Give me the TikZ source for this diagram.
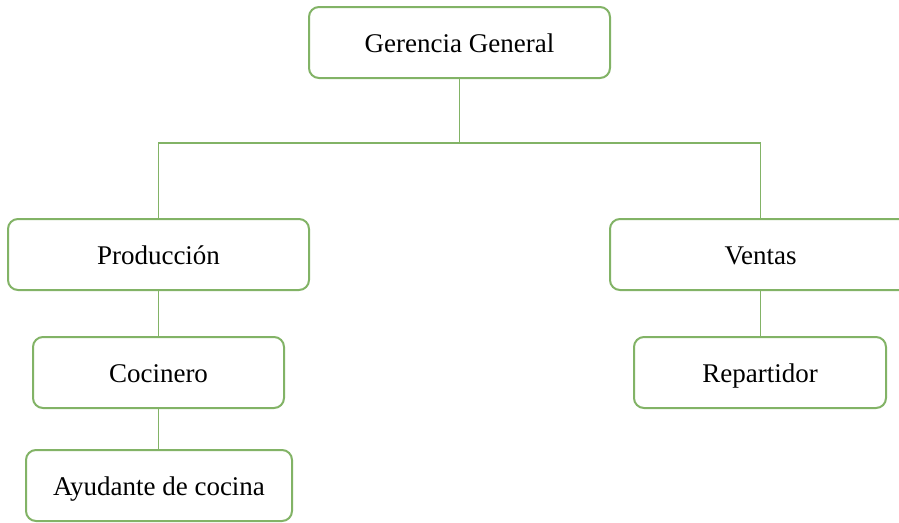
\documentclass[tikz,border=0pt]{standalone}
\usepackage{fontspec}
\setmainfont{Liberation Serif}
\definecolor{boxgreen}{HTML}{82B366}
\begin{document}
\begin{tikzpicture}[x=1pt,y=-1pt,
  unit/.style={draw=boxgreen, line width=2pt, rounded corners=10pt, fill=white,
    minimum height=71pt, inner sep=0pt, text height=22pt, text depth=2pt,
    font=\fontsize{27}{31}\selectfont},
  link/.style={draw=boxgreen, line width=1.8pt}]
  \useasboundingbox (0,0) rectangle (899,522);
  \clip (0,0) rectangle (899,522);
  % organisation chart boxes
  \node[unit, minimum width=301pt] (ger) at (459.5,42.5) {Gerencia General};
  \node[unit, minimum width=301pt] (prod) at (158.5,254.5) {Producción};
  \node[unit, minimum width=301pt] (ven) at (760.5,254.5) {Ventas};
  \node[unit, minimum width=251pt] (coc) at (158.5,372.5) {Cocinero};
  \node[unit, minimum width=252pt] (rep) at (760,372.5) {Repartidor};
  \node[unit, minimum width=266pt] (ayu) at (159,485.5) {Ayudante de cocina};
  % connectors
  \coordinate (bus) at (459.5,143);
  \draw[link] (ger.south) -- (bus);
  \draw[link] (prod.north) |- (bus) -| (ven.north);
  \draw[link] (prod.south) -- (coc.north);
  \draw[link] (coc.south) -- (ayu.north -| coc.south);
  \draw[link] (ven.south) -- (rep.north -| ven.south);
\end{tikzpicture}
\end{document}
